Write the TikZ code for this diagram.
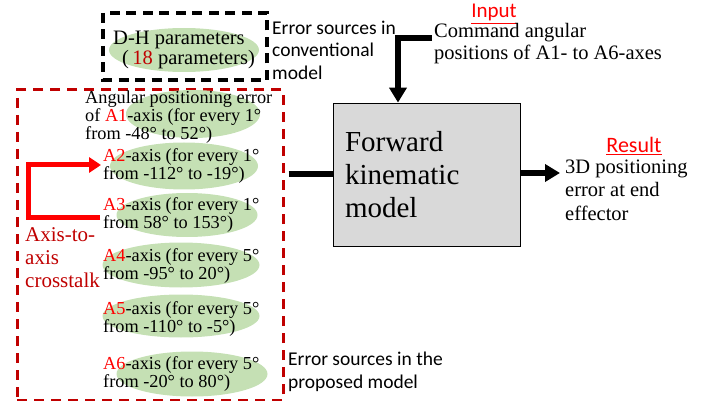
\documentclass[tikz,border=0pt]{standalone}
\usepackage{fontspec}
\setmainfont{Liberation Serif}
\newfontfamily\calib{Carlito}
\usetikzlibrary{shapes.geometric,arrows.meta}
\definecolor{dkred}{HTML}{C00000}
\definecolor{lgreen}{HTML}{C5E0B4}
\definecolor{lgray}{HTML}{D9D9D9}
\tikzset{
  blob/.style={ellipse, fill=lgreen, draw=none, inner sep=0pt},
  etext/.style={anchor=west, align=left, inner sep=0pt, font=\fontsize{18.3}{18}\selectfont},
  note/.style={anchor=west, align=left, inner sep=0pt, font=\calib\fontsize{19.5}{22.5}\selectfont},
  fat/.style={line width=6pt},
  bigtip/.style={-{Triangle[length=15pt,width=17pt]}},
}
\begin{document}
\begin{tikzpicture}[x=1pt,y=-1pt]
\useasboundingbox (0,0) rectangle (718,401);
% boxes
\draw[line width=3.5pt, dash pattern=on 10pt off 6.5pt] (103,13) rectangle (267,80);
\node[name=redbox, draw=dkred, line width=3pt, dash pattern=on 10pt off 7pt, minimum width=266pt, minimum height=310pt, inner sep=0pt] at (150,245) {};
% ellipses
\node[blob, minimum width=150pt, minimum height=44pt] (edh) at (184,50) {};
\node[blob, minimum width=134pt, minimum height=48pt] (e1) at (193,114) {};
\node[blob, minimum width=148pt, minimum height=47pt] (e2) at (184,166) {};
\node[blob, minimum width=141pt, minimum height=44pt] (e3) at (187,215) {};
\node[blob, minimum width=157pt, minimum height=45pt] (e4) at (181,265) {};
\node[blob, minimum width=157pt, minimum height=43pt] (e5) at (181,316) {};
\node[blob, minimum width=151pt, minimum height=45pt] (e6) at (192,374) {};
% texts
\node[anchor=west, align=left, inner sep=0pt, font=\fontsize{20.5}{20}\selectfont] (dh) at (113,50) {D-H parameters\\\hspace{9pt}(\,\textcolor{dkred}{18} parameters)};
\node[etext] (t1) at (85,117) {Angular positioning error\\of \textcolor{red}{A1}-axis (for every 1°\\from -48° to 52°)};
\node[etext] (t2) at (103,166) {\textcolor{red}{A2}-axis (for every 1°\\from -112° to -19°)};
\node[etext] (t3) at (103,215) {\textcolor{red}{A3}-axis (for every 1°\\from 58° to 153°)};
\node[etext] (t4) at (103,266) {\textcolor{red}{A4}-axis (for every 5°\\from -95° to 20°)};
\node[etext] (t5) at (103,319) {\textcolor{red}{A5}-axis (for every 5°\\from -110° to -5°)};
\node[etext] (t6) at (103,374) {\textcolor{red}{A6}-axis (for every 5°\\from -20° to 80°)};
\node[anchor=west, align=left, inner sep=0pt, text=dkred, font=\fontsize{21}{23}\selectfont] (xt) at (25,258) {Axis-to-\\axis\\crosstalk};
\node[note] (conv) at (272,50) {Error sources in\\conventional\\model};
\node[note] (prop) at (288,372) {Error sources in the\\proposed model};
\node[anchor=base, inner sep=0pt, text=red, font=\calib\fontsize{21}{22}\selectfont] (inlab) at (494,18) {\underline{Input}};
\node[anchor=west, align=left, inner sep=0pt, font=\fontsize{20.5}{22}\selectfont] (cmd) at (434,44) {Command angular\\positions of A1- to A6-axes};
\node[anchor=base, inner sep=0pt, text=red, font=\calib\fontsize{22}{23}\selectfont] (reslab) at (634,153) {\underline{Result}};
\node[anchor=west, align=left, inner sep=0pt, font=\fontsize{20.5}{23.5}\selectfont] (res) at (565,190) {3D positioning\\error at end\\effector};
% forward kinematic model box
\node[draw, fill=lgray, line width=0.8pt, minimum width=187pt, minimum height=143pt, text width=163pt, align=left, inner xsep=12pt, font=\fontsize{29}{33}\selectfont] (fk) at (426.5,174.5) {Forward\\kinematic\\model};
% connectors
\coordinate (instart) at (432,38);
\coordinate (inbend) at (398,38);
\draw[fat, bigtip] (instart) -- (inbend) -- (inbend |- fk.north);
\draw[fat] (redbox.east |- fk.west) ++(4pt,0) -- (fk.west);
\coordinate (resend) at (560,173);
\draw[fat, bigtip] (fk.east |- resend) -- (resend);
\coordinate (xa) at (100,217);
\coordinate (xb) at (28,217);
\coordinate (xc) at (28,165);
\coordinate (xd) at (101,165);
\draw[red, line width=5pt, -{Triangle[length=12pt,width=15pt]}] (xa) -- (xb) -- (xc) -- (xd);
\end{tikzpicture}
\end{document}
